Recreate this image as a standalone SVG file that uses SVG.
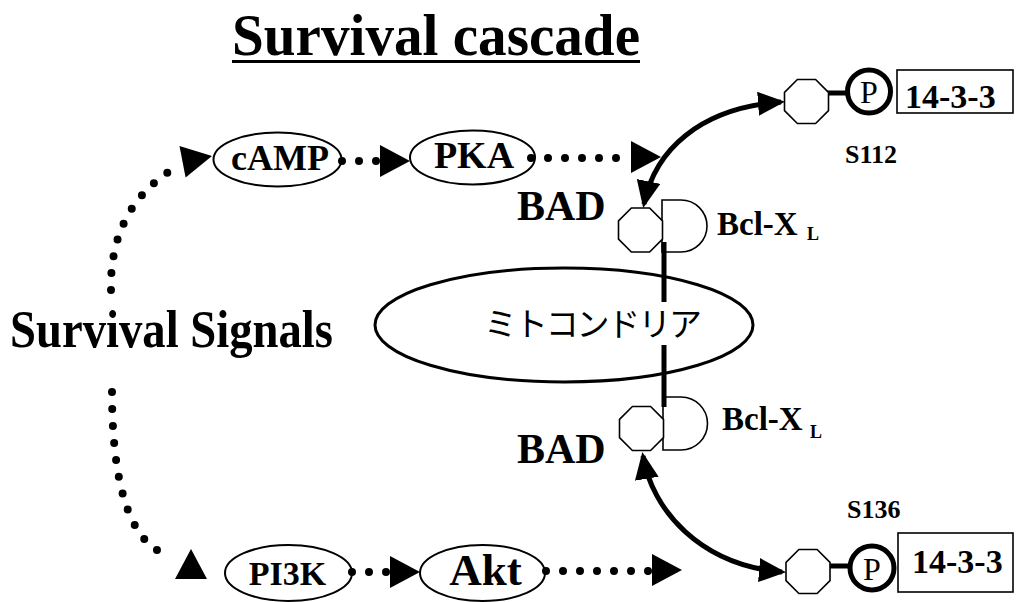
<svg xmlns="http://www.w3.org/2000/svg" xmlns:xlink="http://www.w3.org/1999/xlink" width="1017" height="602" viewBox="0 0 1017 602">
<style>
  .t { font-family: "Liberation Serif", "Times New Roman", serif; font-weight: bold; fill: #000; }
  .p { font-family: "Liberation Serif", "Times New Roman", serif; font-weight: normal; fill: #000; }
  .jp { font-family: "Noto Sans CJK JP", "Noto Sans CJK SC", sans-serif; font-weight: normal; fill: #000; }
  .node { fill: #fff; stroke: #000; stroke-width: 1.6; }
  .ell { fill: #fff; stroke: #000; stroke-width: 2; }
  .dots { fill: none; stroke: #000; stroke-width: 8; stroke-linecap: round; stroke-dasharray: 0 17; }
  .curve { fill: none; stroke: #000; stroke-width: 5; marker-start: url(#mh); marker-end: url(#mh); }
  .bar { stroke: #000; stroke-width: 5; }
  .pc { fill: #fff; stroke: #000; stroke-width: 5; }
</style>
<defs>
  <path id="ah" d="M0,0 L-30,-16 L-30,16 Z" fill="#000"/>
  <polygon id="oct" points="-9.1,-22 9.1,-22 22,-9.1 22,9.1 9.1,22 -9.1,22 -22,9.1 -22,-9.1"/>
  <marker id="mh" markerUnits="userSpaceOnUse" viewBox="0 0 27 24" markerWidth="27" markerHeight="24" refX="23" refY="12" orient="auto-start-reverse">
    <path d="M0,0 L27,12 L0,24 Z" fill="#000"/>
  </marker>
</defs>

<g id="title">
  <text class="t" x="232" y="55" font-size="60" textLength="408" lengthAdjust="spacingAndGlyphs">Survival cascade</text>
  <rect x="232" y="60" width="408" height="3" fill="#000"/>
</g>

<g id="survival-signals">
  <text class="t" x="10" y="347" font-size="52" textLength="323" lengthAdjust="spacingAndGlyphs">Survival Signals</text>
</g>

<g id="mitochondria">
  <ellipse cx="564" cy="325" rx="189" ry="57" fill="#fff" stroke="#000" stroke-width="3"/>
  <text class="jp" x="484" y="336" font-size="33" textLength="218" lengthAdjust="spacing">ミトコンドリア</text>
</g>

<g id="camp">
  <ellipse class="ell" cx="277.5" cy="159.5" rx="64" ry="27"/>
  <text class="t" x="280" y="170" font-size="36" text-anchor="middle">cAMP</text>
</g>
<g id="pka">
  <ellipse class="ell" cx="472.5" cy="157.5" rx="62.5" ry="27"/>
  <text class="t" x="474" y="168" font-size="38" text-anchor="middle">PKA</text>
</g>
<g id="pi3k">
  <ellipse class="ell" cx="288.5" cy="573" rx="63.5" ry="28"/>
  <text class="t" x="287.5" y="585" font-size="34" text-anchor="middle">PI3K</text>
</g>
<g id="akt">
  <ellipse class="ell" cx="482.5" cy="573" rx="62.5" ry="28"/>
  <text class="t" x="485.5" y="585" font-size="45" text-anchor="middle">Akt</text>
</g>

<g id="bad-upper">
  <path class="node" d="M662,200 L681,200 A26,26 0 0 1 681,252 L662,252 Z"/>
  <use href="#oct" xlink:href="#oct" class="node" x="640.5" y="230"/>
  <text class="t" x="517" y="220" font-size="42">BAD</text>
  <text class="t" x="717" y="235" font-size="33">Bcl-X<tspan x="807" dy="5" font-size="18">L</tspan></text>
</g>

<g id="bad-lower">
  <path class="node" d="M663,397 L681,397 A26.5,26.5 0 0 1 681,450 L663,450 Z"/>
  <use href="#oct" xlink:href="#oct" class="node" x="641.5" y="428.5"/>
  <text class="t" x="517" y="463" font-size="42">BAD</text>
  <text class="t" x="722" y="430" font-size="33">Bcl-X<tspan x="810" dy="8" font-size="18">L</tspan></text>
</g>

<g id="anchor">
  <line class="bar" x1="664" y1="242" x2="664" y2="302" stroke-width="6"/>
  <line class="bar" x1="664" y1="345" x2="664" y2="407" stroke-width="6"/>
</g>

<g id="complex-s112">
  <line class="bar" x1="826" y1="93" x2="848" y2="93"/>
  <use href="#oct" xlink:href="#oct" class="node" x="806.5" y="101.5"/>
  <rect class="node" x="897" y="70" width="116" height="43"/>
  <circle class="pc" cx="869" cy="91.5" r="21.5"/>
  <text class="p" x="869" y="103" font-size="32" text-anchor="middle">P</text>
  <text class="t" x="905" y="108" font-size="34">14-3-3</text>
  <text class="t" x="845" y="163" font-size="26">S112</text>
</g>

<g id="complex-s136">
  <line class="bar" x1="828" y1="566" x2="850" y2="566"/>
  <use href="#oct" xlink:href="#oct" class="node" x="808" y="571.5"/>
  <rect class="node" x="898" y="533" width="115" height="59"/>
  <circle class="pc" cx="872" cy="568" r="22"/>
  <text class="p" x="872" y="580" font-size="32" text-anchor="middle">P</text>
  <text class="t" x="912" y="573" font-size="34">14-3-3</text>
  <text class="t" x="847" y="518" font-size="26">S136</text>
</g>

<g id="connectors">
  <path class="dots" d="M111,290 C110,245 125,200 170,171"/>
  <use href="#ah" xlink:href="#ah" transform="translate(212,156) rotate(-11)"/>
  <path class="dots" d="M112,392 C112,470 125,545 171,556"/>
  <use href="#ah" xlink:href="#ah" transform="translate(191,549) rotate(-90)"/>
  <path class="dots" d="M342,161 L378,161"/>
  <use href="#ah" xlink:href="#ah" transform="translate(410,161)"/>
  <path class="dots" d="M531,158 L633,158"/>
  <use href="#ah" xlink:href="#ah" transform="translate(661,157)"/>
  <path class="dots" d="M352,572 L388,572"/>
  <use href="#ah" xlink:href="#ah" transform="translate(420,572)"/>
  <path class="dots" d="M546,571 L650,571"/>
  <use href="#ah" xlink:href="#ah" transform="translate(682,570)"/>
  <path class="curve" d="M644,204 C655,150 700,108 781,102"/>
  <path class="curve" d="M643,456 C652,510 700,565 782,572"/>
</g>
</svg>
